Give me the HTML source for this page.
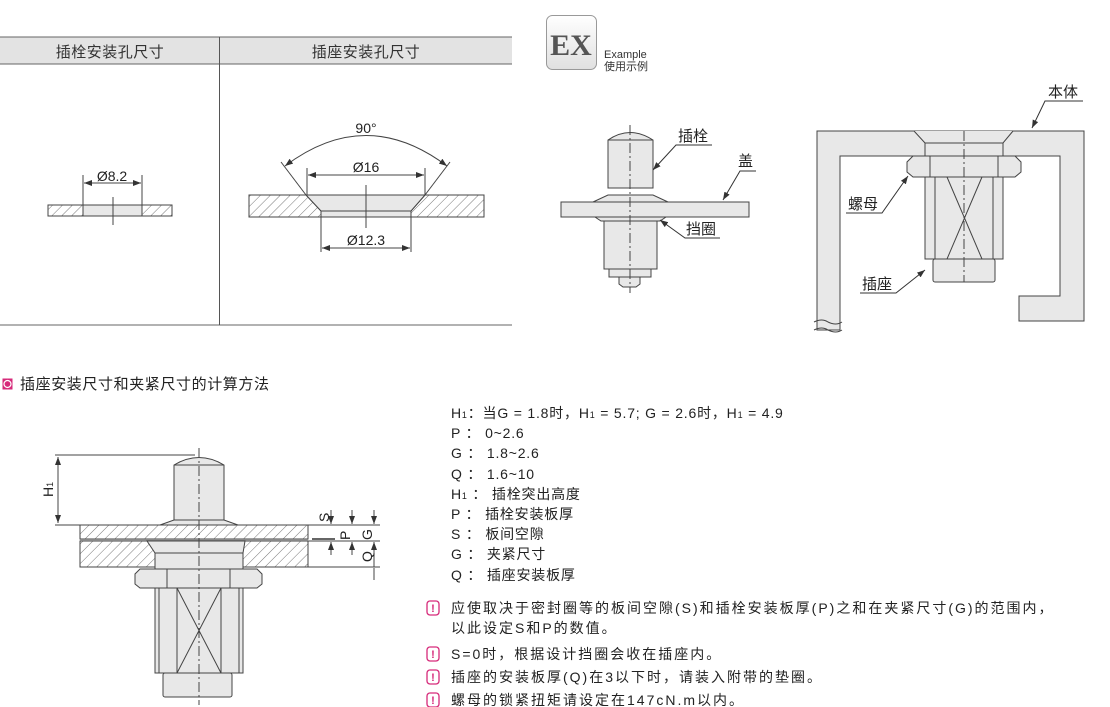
<!DOCTYPE html>
<html><head><meta charset="utf-8"><style>
body{margin:0;background:#fff;width:1110px;height:707px;overflow:hidden;font-family:"Liberation Sans","Noto Sans CJK SC",sans-serif;}
svg{position:absolute;left:0;top:0}
</style></head><body>
<svg width="1110" height="707" viewBox="0 0 1110 707" font-family="Liberation Sans, Noto Sans CJK SC, sans-serif">
<defs>
<pattern id="h" width="7" height="7" patternUnits="userSpaceOnUse" patternTransform="rotate(45)">
<rect width="7" height="7" fill="#fff"/><line x1="0" y1="0" x2="0" y2="7" stroke="#555" stroke-width="0.8"/></pattern>
<marker id="a" markerWidth="8" markerHeight="6" refX="8" refY="3" orient="auto-start-reverse" markerUnits="userSpaceOnUse"><path d="M0,0 L8,3 L0,6z" fill="#333"/></marker>
<linearGradient id="g" x1="0" y1="0" x2="0" y2="1"><stop offset="0" stop-color="#fff"/><stop offset="1" stop-color="#e0e0e0"/></linearGradient>
</defs>
<!-- table -->
<rect x="0" y="37" width="512" height="27" fill="#e3e3e3"/>
<line x1="0" y1="37" x2="512" y2="37" stroke="#666"/>
<line x1="0" y1="64" x2="512" y2="64" stroke="#666"/>
<line x1="0" y1="325" x2="512" y2="325" stroke="#666"/>
<line x1="219.5" y1="37" x2="219.5" y2="325" stroke="#555"/>
<text x="110" y="57" font-size="15" text-anchor="middle" fill="#333" letter-spacing="0.5">插栓安装孔尺寸</text>
<text x="366" y="57" font-size="15" text-anchor="middle" fill="#333" letter-spacing="0.5">插座安装孔尺寸</text>
<g stroke="#444" stroke-width="1" fill="none">
<rect x="48" y="205" width="35" height="11" fill="url(#h)"/>
<rect x="142" y="205" width="30" height="11" fill="url(#h)"/>
<rect x="83" y="205" width="59" height="11" fill="#e8e8e8"/>
<line x1="113" y1="197" x2="113" y2="225"/>
<line x1="83" y1="175" x2="83" y2="205"/><line x1="142" y1="175" x2="142" y2="205"/>
<line x1="84" y1="183" x2="141" y2="183" marker-start="url(#a)" marker-end="url(#a)"/>
<path d="M249,195 H306 L321,211 V217 H249Z" fill="url(#h)"/>
<path d="M484,195 H425 L411,211 V217 H484Z" fill="url(#h)"/>
<path d="M306,195 H425 L411,211 H321Z" fill="#e8e8e8"/>
<rect x="321" y="211" width="90" height="6" fill="#e8e8e8"/>
<line x1="366" y1="185" x2="366" y2="228"/>
<line x1="307" y1="168" x2="307" y2="195"/><line x1="425" y1="168" x2="425" y2="195"/>
<line x1="308" y1="175" x2="424" y2="175" marker-start="url(#a)" marker-end="url(#a)"/>
<line x1="321" y1="217" x2="321" y2="252"/><line x1="411" y1="217" x2="411" y2="252"/>
<line x1="322" y1="248" x2="410" y2="248" marker-start="url(#a)" marker-end="url(#a)"/>
<line x1="306" y1="195" x2="281" y2="162"/><line x1="425" y1="195" x2="450" y2="162"/>
<path d="M285,166 Q366,105 447,166" marker-start="url(#a)" marker-end="url(#a)"/>
</g>
<g font-size="14" fill="#222" text-anchor="middle">
<text x="112" y="181">Ø8.2</text><text x="366" y="172">Ø16</text><text x="366" y="245">Ø12.3</text><text x="366" y="133">90°</text>
</g>
<!-- EX -->
<rect x="546.5" y="15.5" width="50" height="54" rx="6" fill="url(#g)" stroke="#999"/>
<text x="571" y="55" font-size="30" font-weight="bold" font-family="Liberation Serif, serif" text-anchor="middle" fill="#555">EX</text>
<text x="604" y="58" font-size="11" fill="#333">Example</text>
<text x="604" y="70" font-size="11" fill="#333">使用示例</text>
<!-- bolt example -->
<g stroke="#444" stroke-width="1" fill="#e8e8e8">
<path d="M608,188 V140 Q630,125 653,140 V188Z"/>
<line x1="608" y1="140" x2="653" y2="140"/>
<path d="M593,202 L608,195 H653 L668,202Z"/>
<rect x="561" y="202" width="188" height="15"/>
<path d="M595,217 H666 L660,221 H601Z"/>
<rect x="604" y="221" width="53" height="48"/>
<rect x="609" y="269" width="42" height="8"/>
<path d="M619,277 H640 V284 L636,287 H623 L619,284Z"/>
</g>
<line x1="630" y1="125" x2="630" y2="293" stroke="#444" stroke-dasharray="10,3,2,3"/>
<g stroke="#333" fill="none">
<path d="M653,170 L676,145 H712" marker-start="url(#a)"/>
<path d="M723,200 L740,171 H756" marker-start="url(#a)"/>
<path d="M660,220 L685,238 H720" marker-start="url(#a)"/>
</g>
<g font-size="15" fill="#222"><text x="678" y="141">插栓</text><text x="738" y="166">盖</text><text x="686" y="234">挡圈</text></g>
<!-- body -->
<path d="M817,131 H1084 V321 H1019 V296 H1060 V156 H840 V330 H817Z" fill="#e8e8e8" stroke="#444"/>
<path d="M814,322 q8,-4 14,0 q8,4 14,0 M814,330 q8,-4 14,0 q8,4 14,0" stroke="#444" fill="none"/>
<g stroke="#444" fill="#e8e8e8">
<path d="M914,131 L925,143 H1003 L1013,131"/>
<rect x="925" y="143" width="78" height="116"/>
<path d="M913,156 H1015 L1021,162 V172 L1015,177 H913 L907,172 V162Z"/>
<line x1="930" y1="156" x2="930" y2="177"/><line x1="998" y1="156" x2="998" y2="177"/>
<rect x="933" y="259" width="62" height="23" rx="2"/>
<path d="M947,177 L982,259 M982,177 L947,259 M935,177 V259 M993,177 V259" fill="none"/>
</g>
<line x1="964" y1="131" x2="964" y2="282" stroke="#444" stroke-dasharray="10,3,2,3"/>
<g stroke="#333" fill="none">
<path d="M1032,128 L1045,101 H1083" marker-start="url(#a)"/>
<path d="M908,176 L882,213 H846" marker-start="url(#a)"/>
<path d="M925,270 L896,293 H860" marker-start="url(#a)"/>
</g>
<g font-size="15" fill="#222"><text x="1048" y="97">本体</text><text x="848" y="209">螺母</text><text x="862" y="289">插座</text></g>
<!-- heading -->
<rect x="2.5" y="378.5" width="10" height="11" fill="#d62a7a"/>
<circle cx="7.5" cy="384" r="3.5" fill="none" stroke="#fff" stroke-width="1.2"/>
<text x="20" y="389" font-size="15" fill="#222" letter-spacing="0.6">插座安装尺寸和夹紧尺寸的计算方法</text>
<!-- bottom drawing -->
<g stroke="#444" stroke-width="1">
<rect x="80" y="525" width="228" height="14" fill="url(#h)"/>
<rect x="80" y="541" width="228" height="26" fill="url(#h)"/>
<line x1="80" y1="540" x2="308" y2="540" stroke="#888" stroke-width="2"/>
<path d="M174,525 V465 Q199,450 224,465 V525Z" fill="#e8e8e8"/>
<line x1="174" y1="465" x2="224" y2="465"/>
<path d="M160,525 L174,520 H224 L238,525Z" fill="#e8e8e8"/>
<path d="M147,541 H245 L243,553 H155Z" fill="#e8e8e8"/>
<rect x="155" y="553" width="88" height="16" fill="#e8e8e8"/>
<path d="M140,569 H257 L262,574 V584 L257,588 H140 L135,584 V574Z" fill="#e8e8e8"/>
<line x1="167" y1="569" x2="167" y2="588"/><line x1="230" y1="569" x2="230" y2="588"/>
<rect x="155" y="588" width="88" height="85" fill="#e8e8e8"/>
<path d="M159,588 V673 M239,588 V673 M177,588 V673 M221,588 V673 M177,588 L221,673 M221,588 L177,673" fill="none"/>
<rect x="163" y="673" width="69" height="24" rx="2" fill="#e8e8e8"/>
<line x1="55" y1="455" x2="195" y2="455" fill="none"/>
<line x1="55" y1="525" x2="80" y2="525"/>
<line x1="58" y1="457" x2="58" y2="523" marker-start="url(#a)" marker-end="url(#a)"/>
<line x1="308" y1="525" x2="380" y2="525"/><line x1="308" y1="541" x2="380" y2="541"/><line x1="308" y1="567" x2="380" y2="567"/>
<line x1="312" y1="539" x2="335" y2="539" stroke="#666" stroke-width="2"/>
<line x1="331" y1="510" x2="331" y2="524" marker-end="url(#a)"/><line x1="331" y1="555" x2="331" y2="542" marker-end="url(#a)"/>
<line x1="352" y1="510" x2="352" y2="524" marker-end="url(#a)"/><line x1="352" y1="555" x2="352" y2="542" marker-end="url(#a)"/>
<line x1="374" y1="510" x2="374" y2="524" marker-end="url(#a)"/><line x1="374" y1="567" x2="374" y2="542" marker-end="url(#a)"/>
<line x1="374" y1="568" x2="374" y2="580"/>
</g>
<line x1="199" y1="448" x2="199" y2="705" stroke="#444" stroke-dasharray="10,3,2,3"/>
<g font-size="14" fill="#222">
<text transform="translate(53,497) rotate(-90)">H<tspan font-size="9">1</tspan></text>
<text transform="translate(329,522) rotate(-90)">S</text>
<text transform="translate(350,540) rotate(-90)">P</text>
<text transform="translate(372,540) rotate(-90)">G</text>
<text transform="translate(372,562) rotate(-90)">Q</text>
</g>
<!-- text -->
<g font-size="14" fill="#222" letter-spacing="0.8">
<text x="451" y="418">H<tspan font-size="9">1</tspan>：当G = 1.8时，H<tspan font-size="9">1</tspan> = 5.7; G = 2.6时，H<tspan font-size="9">1</tspan> = 4.9</text>
<text x="451" y="438">P ： 0~2.6</text>
<text x="451" y="458">G ： 1.8~2.6</text>
<text x="451" y="479">Q ： 1.6~10</text>
<text x="451" y="499">H<tspan font-size="9">1</tspan> ： 插栓突出高度</text>
<text x="451" y="519">P ： 插栓安装板厚</text>
<text x="451" y="539">S ： 板间空隙</text>
<text x="451" y="559">G ： 夹紧尺寸</text>
<text x="451" y="580">Q ： 插座安装板厚</text>
</g>
<g font-size="14" fill="#222" letter-spacing="2">
<text x="451" y="613">应使取决于密封圈等的板间空隙(S)和插栓安装板厚(P)之和在夹紧尺寸(G)的范围内，</text>
<text x="451" y="633">以此设定S和P的数值。</text>
<text x="451" y="659">S=0时，根据设计挡圈会收在插座内。</text>
<text x="451" y="682">插座的安装板厚(Q)在3以下时，请装入附带的垫圈。</text>
<text x="451" y="705">螺母的锁紧扭矩请设定在147cN.m以内。</text>
</g>
<g stroke="#d62a7a" fill="none" stroke-width="1.3">
<rect x="427" y="601" width="12" height="14" rx="3"/><rect x="427" y="647" width="12" height="14" rx="3"/>
<rect x="427" y="670" width="12" height="14" rx="3"/><rect x="427" y="693" width="12" height="14" rx="3"/>
</g>
<g fill="#d62a7a" font-size="11" font-weight="bold" text-anchor="middle">
<text x="433" y="612">!</text><text x="433" y="658">!</text><text x="433" y="681">!</text><text x="433" y="704">!</text>
</g>
</svg>
</body></html>
